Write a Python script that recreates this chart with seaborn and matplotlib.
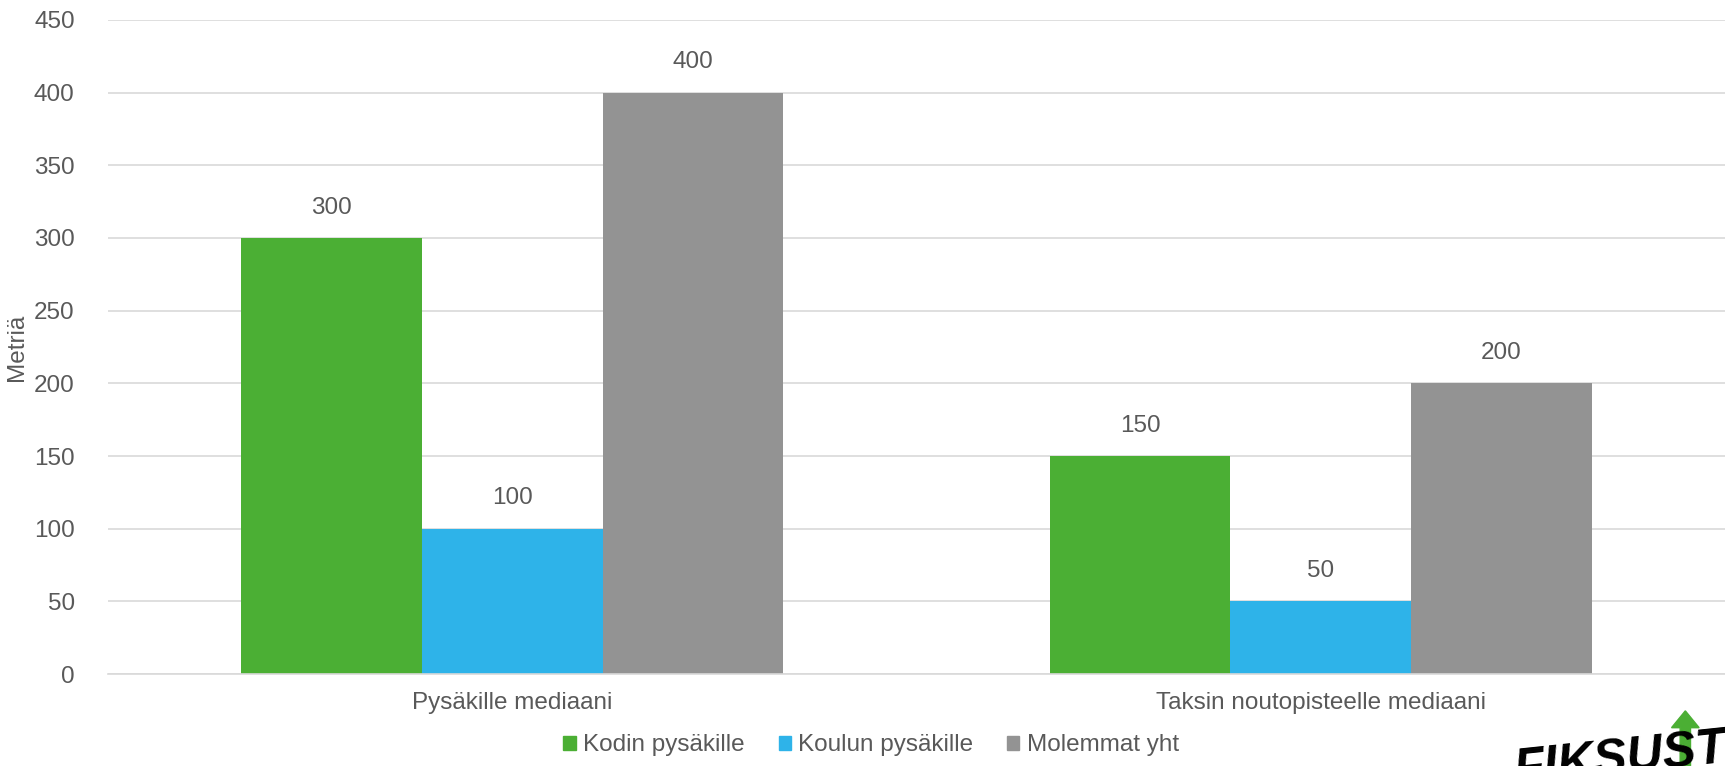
import pandas as pd
import matplotlib.pyplot as plt
import seaborn as sns
from matplotlib.patches import FancyArrow

categories = ['Pysäkille mediaani', 'Taksin noutopisteelle mediaani']
series = ['Kodin pysäkille', 'Koulun pysäkille', 'Molemmat yht']
kodin = [300, 150]
koulun = [100, 50]
molemmat = [400, 200]
colors = ['#4BAF34', '#2EB3E9', '#939393']
text_col = '#595959'

df = pd.DataFrame({
    'cat': categories * 3,
    'series': [s for s in series for _ in categories],
    'value': kodin + koulun + molemmat,
})

sns.set_theme(style='white')
plt.rcParams['font.family'] = ['Liberation Sans', 'DejaVu Sans']

fig = plt.figure(figsize=(17.25, 7.66), dpi=100)
ax = fig.add_axes([0.0626, 0.12, 0.9374, 0.854])

sns.barplot(data=df, x='cat', y='value', hue='series', palette=colors,
            width=0.67, saturation=1, linewidth=0, ax=ax, legend=False)

ax.set_ylim(0, 450)
ax.set_xlim(-0.5, 1.5)
ax.set_yticks(range(0, 451, 50))
ax.yaxis.grid(True, color='#D9D9D9', linewidth=1.2)
ax.set_axisbelow(True)
for s in ['top', 'right', 'left']:
    ax.spines[s].set_visible(False)
ax.spines['bottom'].set_color('#D9D9D9')
ax.spines['bottom'].set_linewidth(1.2)
ax.tick_params(axis='both', colors=text_col, labelsize=17.5, length=0)
ax.tick_params(axis='y', pad=24)
ax.tick_params(axis='x', pad=13)
ax.set_xlabel('')
ax.set_ylabel('Metriä', color=text_col, fontsize=17.5, labelpad=4)

for cont in ax.containers:
    ax.bar_label(cont, fmt='%d', padding=14, color=text_col, fontsize=17.5)

handles = [plt.Rectangle((0, 0), 1, 1, color=c) for c in colors]
fig.legend(handles, series, loc='center', bbox_to_anchor=(0.505, 0.027), ncol=3,
           frameon=False, fontsize=17.5, labelcolor=text_col, handlelength=0.5,
           handleheight=0.5, handletextpad=0.3, columnspacing=1.4)

# partial logo in the corner
fig.text(0.876, -0.024, 'FIKSUSTI', ha='left', va='baseline', fontsize=36,
         fontweight='heavy', style='italic', color='black', rotation=6)
fig.patches.append(FancyArrow(0.977, 0.0, 0, 0.05, width=0.006,
                              head_width=0.016, head_length=0.022,
                              color='#4BAF34', transform=fig.transFigure,
                              figure=fig))

fig.savefig('out.png', dpi=100)
